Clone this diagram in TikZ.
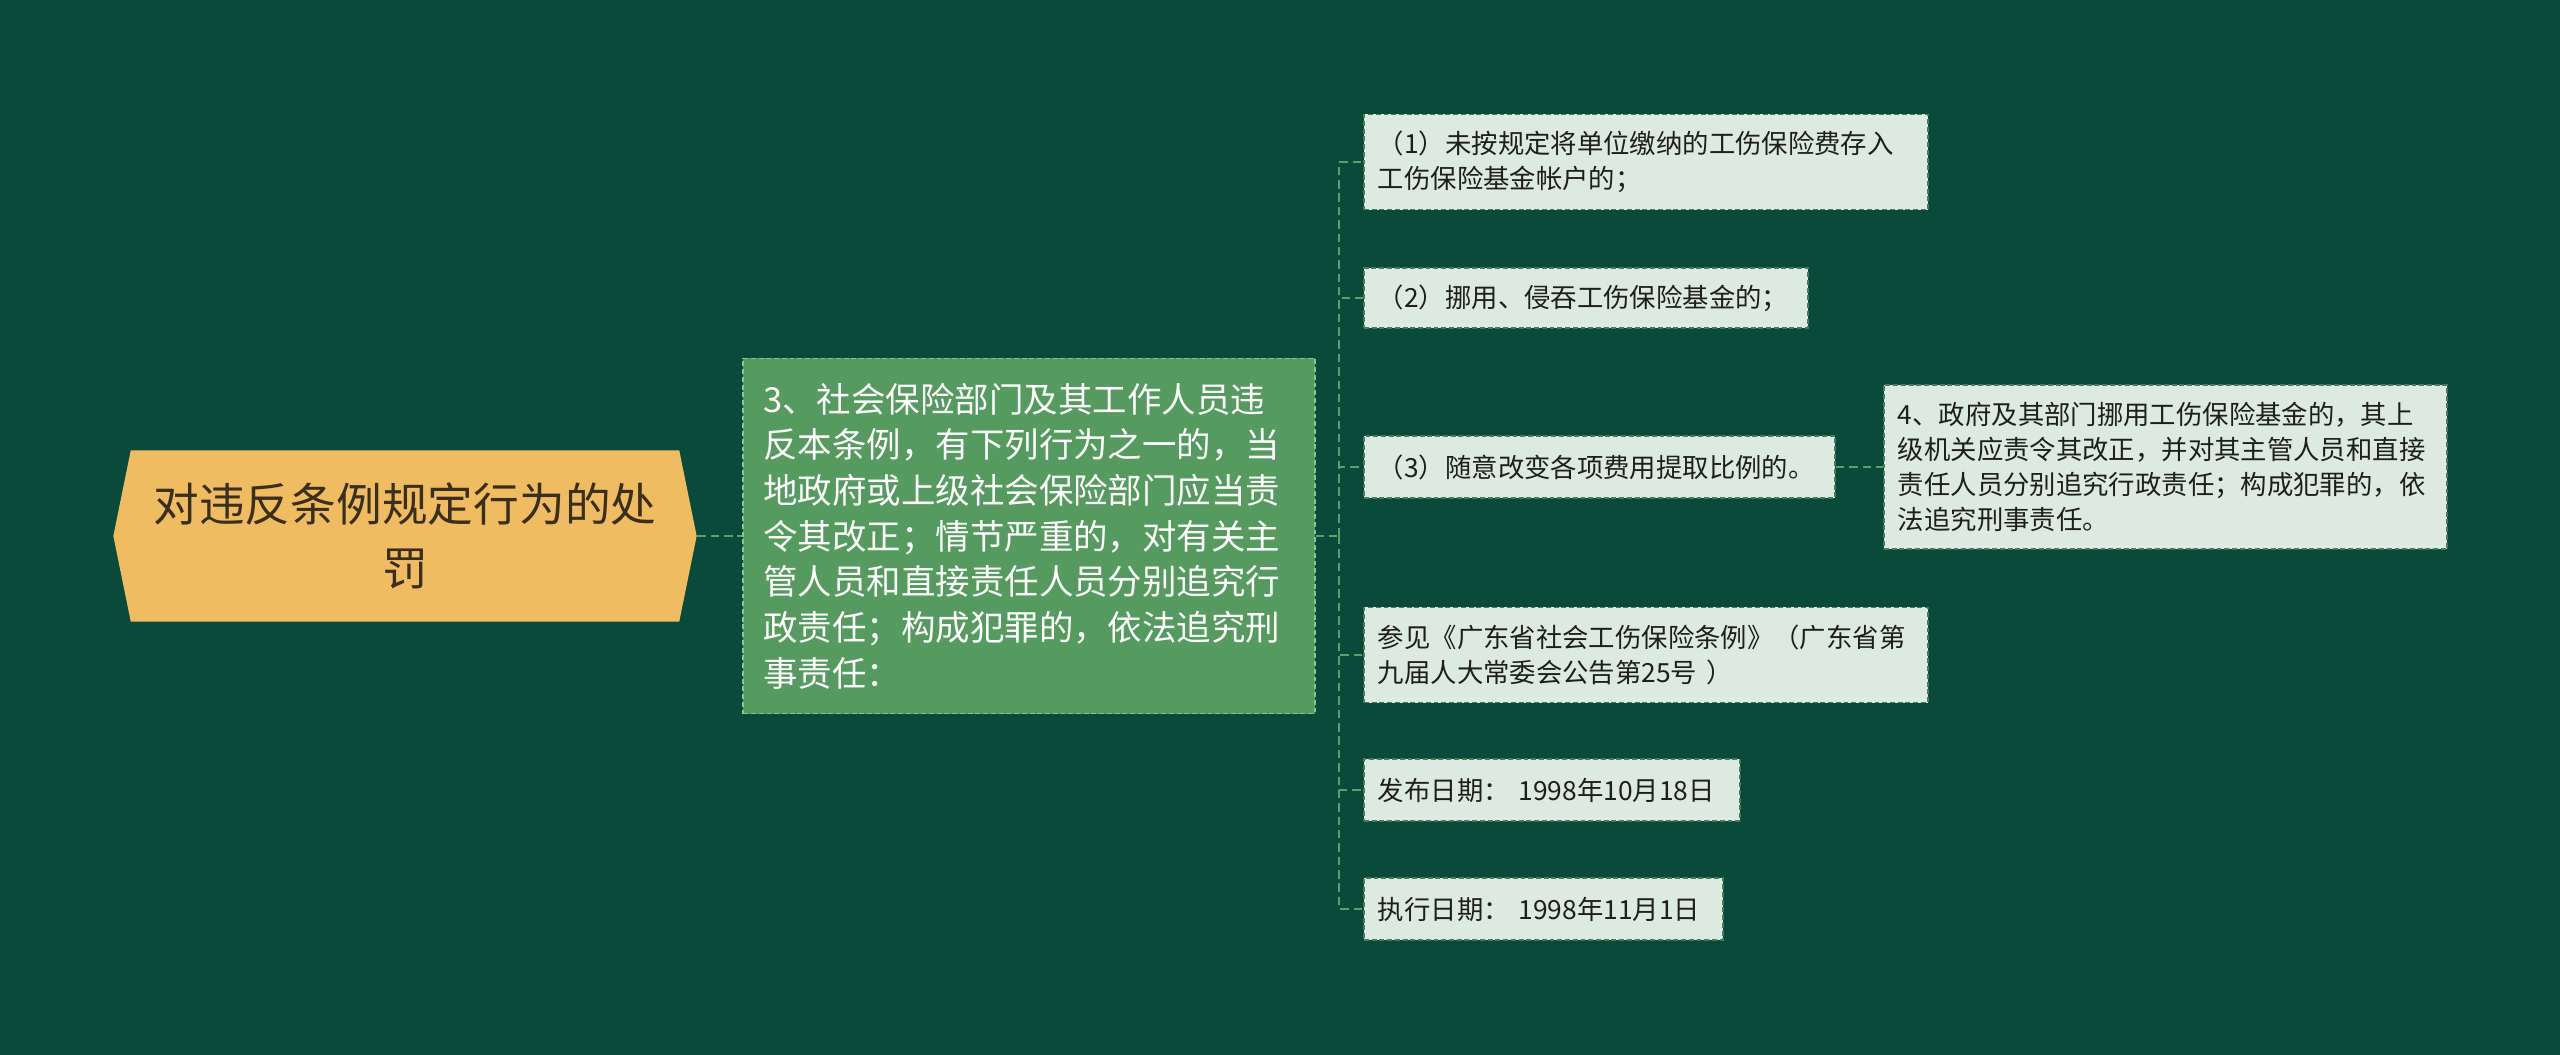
\documentclass[tikz,border=0pt]{standalone}
\usepackage{fontspec}
\usetikzlibrary{shapes.symbols}
\newfontfamily\cjk{Noto Sans CJK SC}
\definecolor{bgcol}{HTML}{0A4A3A}
\definecolor{rootcol}{HTML}{F0BC62}
\definecolor{roottxt}{HTML}{3A2E1C}
\definecolor{maincol}{HTML}{559A5E}
\definecolor{mainedge}{HTML}{8CC49A}
\definecolor{leafcol}{HTML}{DDEAE1}
\definecolor{leafedge}{HTML}{4A7A5C}
\definecolor{leaftxt}{HTML}{1E1E1E}
\definecolor{linkcol}{HTML}{5AA06C}
\tikzset{
	rootbox/.style={shape=signal,signal to=west and east,signal pointer angle=157,
		fill=rootcol,text=roottxt,minimum width=5.83cm,minimum height=1.71cm,
		inner sep=0pt,align=center,font=\cjk\fontsize{13}{18}\selectfont},
	mainbox/.style={draw=mainedge,fill=maincol,line width=0.5pt,dash pattern=on 1.4pt off 0.8pt,
		text=white,align=left,inner xsep=0.2cm,text width=5.31cm,minimum height=3.55cm,
		font=\cjk\fontsize{9.8}{13}\selectfont},
	leafbox/.style={draw=leafedge,fill=leafcol,line width=0.5pt,dash pattern=on 1.4pt off 0.8pt,
		text=leaftxt,align=left,anchor=west,inner xsep=0.14cm,
		font=\cjk\fontsize{7.5}{10}\selectfont},
	link/.style={draw=linkcol,line width=0.65pt,dash pattern=on 2.4pt off 1.4pt},
}
% leaf: name, west point, text width, height, text
\newcommand{\Leaf}[5]{
	\node[leafbox,text width=#3cm,minimum height=#4cm] (#1) at (#2) {#5};
}

\begin{document}
\begin{tikzpicture}[x=0.01cm,y=-0.01cm]
\useasboundingbox (0,0) rectangle (2560,1055);
\fill[bgcol] (0,0) rectangle (2560,1055);
%root and main topic
\node[rootbox] (root) at (405,536) {对违反条例规定行为的处\\罚};
\node[mainbox] (main) at (1029,536) {3、社会保险部门及其工作人员违\\反本条例，有下列行为之一的，当\\地政府或上级社会保险部门应当责\\令其改正；情节严重的，对有关主\\管人员和直接责任人员分别追究行\\政责任；构成犯罪的，依法追究刑\\事责任：};
\coordinate (hub) at (1339,536);
%leaves
\Leaf{c1}{1363,162}{5.36}{0.95}{（1）未按规定将单位缴纳的工伤保险费存入\\工伤保险基金帐户的；}
\Leaf{c2}{1363,298}{4.16}{0.60}{（2）挪用、侵吞工伤保险基金的；}
\Leaf{c3}{1363,467}{4.43}{0.62}{（3）随意改变各项费用提取比例的。}
\Leaf{c5}{1363,655}{5.36}{0.95}{参见《广东省社会工伤保险条例》（广东省第\\九届人大常委会公告第25号 ）}
\Leaf{c6}{1363,790}{3.48}{0.62}{发布日期： 1998年10月18日}
\Leaf{c7}{1363,909}{3.31}{0.62}{执行日期： 1998年11月1日}
\Leaf{c4}{1883,467}{5.35}{1.64}{4、政府及其部门挪用工伤保险基金的，其上\\级机关应责令其改正，并对其主管人员和直接\\责任人员分别追究行政责任；构成犯罪的，依\\法追究刑事责任。}
%links
\draw[link] (root.east) -- (main.west);
\draw[link] (main.east) -- (hub);
\foreach \c in {c1,c2,c3,c5,c6,c7}{
	\draw[link] (hub) |- (\c.west);
}
\draw[link] (c3.east) -- (c4.west);
\end{tikzpicture}
\end{document}
